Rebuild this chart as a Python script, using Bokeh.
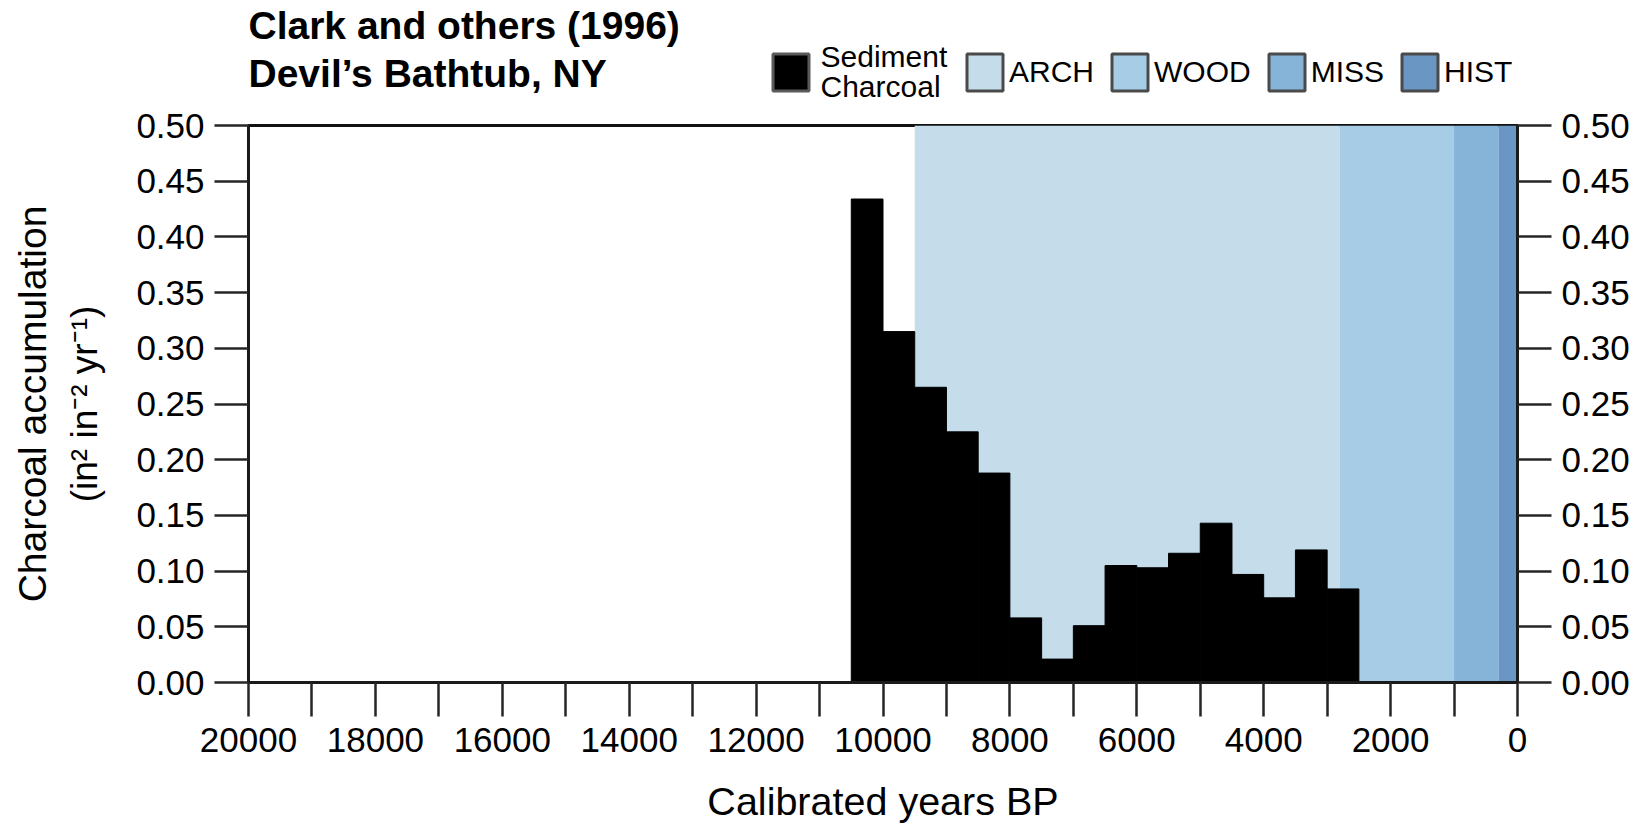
from bokeh.plotting import figure
from bokeh.layouts import column
from bokeh.models import (Range1d, FixedTicker, PrintfTickFormatter, LinearAxis,
                          Label, Legend, LegendItem, ColumnDataSource, Title)
from bokeh.embed import file_html
from bokeh.resources import INLINE

# ---------------- data ----------------
bin_older = [10500, 10000, 9500, 9000, 8500, 8000, 7500, 7000,
             6500, 6000, 5500, 5000, 4500, 4000, 3500, 3000]
bin_younger = [10000, 9500, 9000, 8500, 8000, 7500, 7000, 6500,
               6000, 5500, 5000, 4500, 4000, 3500, 3000, 2500]
charcoal = [0.434, 0.315, 0.265, 0.225, 0.188, 0.058, 0.021, 0.051,
            0.105, 0.103, 0.116, 0.143, 0.097, 0.076, 0.119, 0.084]

periods = ["ARCH", "WOOD", "MISS", "HIST"]
period_start = [9500, 2800, 1000, 300]
period_end = [2800, 1000, 300, 0]
period_colors = ["#c5dcea", "#a7cde6", "#86b4d8", "#6a96c4"]

x_major_ticks = [20000, 18000, 16000, 14000, 12000, 10000, 8000, 6000, 4000, 2000, 0]
x_minor_ticks = [19000, 17000, 15000, 13000, 11000, 9000, 7000, 5000, 3000, 1000]
y_ticks = [0.00, 0.05, 0.10, 0.15, 0.20, 0.25, 0.30, 0.35, 0.40, 0.45, 0.50]

title_lines = ["Clark and others (1996)", "Devil\u2019s Bathtub, NY"]
y_title_lines = ["Charcoal accumulation", "(in\u00b2 in\u207b\u00b2 yr\u207b\u00b9)"]
x_title = "Calibrated years BP"
bar_label_lines = ["Sediment", "Charcoal"]

FONT = "Liberation Sans"
W = 1642
HEAD_H = 105
MAIN_H = 825 - HEAD_H

band_src = ColumnDataSource(dict(left=period_start, right=period_end,
                                 color=period_colors, name=periods))
bar_src = ColumnDataSource(dict(left=bin_older, right=bin_younger, top=charcoal))

# ---------------- header (title + legend) ----------------
head = figure(width=W, height=HEAD_H, output_backend="svg", toolbar_location=None,
              x_range=Range1d(0, 1), y_range=Range1d(0, 1),
              x_axis_location=None, y_axis_location=None,
              min_border=0, min_border_left=0, min_border_right=0,
              min_border_top=0, min_border_bottom=0)
head.xgrid.visible = False
head.ygrid.visible = False
head.outline_line_color = None
head.background_fill_color = "white"
head.border_fill_color = "white"

band_sw = head.quad(left="left", right="right", bottom=0, top=0.5, source=band_src,
                    fill_color="color", line_color="#4a4a4a", line_width=3)
band_sw.visible = False
bar_sw = head.quad(left="left", right="right", bottom=0, top="top", source=bar_src,
                   fill_color="black", line_color="#5a5a5a", line_width=3)
bar_sw.visible = False

# header frame is aligned with the main frame (starts at page x = 248)
for txt, yb in zip(title_lines, [80, 32]):
    head.add_layout(Label(x=0, y=yb, x_units="screen", y_units="screen", text=txt,
                          text_font=FONT, text_font_size="39px", text_font_style="bold",
                          text_color="black", text_baseline="alphabetic", text_align="left"))
for txt, yb in zip(bar_label_lines, [49, 19]):
    head.add_layout(Label(x=572, y=yb, x_units="screen", y_units="screen", text=txt,
                          text_font=FONT, text_font_size="30px",
                          text_color="black", text_baseline="alphabetic", text_align="left"))

leg_common = dict(orientation="horizontal", glyph_width=45, glyph_height=46,
                  label_height=46, label_standoff=2, spacing=13, padding=0, margin=0,
                  border_line_color=None, background_fill_alpha=0,
                  label_text_font=FONT, label_text_font_size="30px",
                  label_text_color="black", inactive_fill_alpha=0)
leg_bar = Legend(items=[LegendItem(label=" ", renderers=[bar_sw])],
                 location=(520, 10), **leg_common)
leg_bands = Legend(items=[LegendItem(label=name, renderers=[band_sw], index=i)
                          for i, name in enumerate(periods)],
                   location=(714, 10), **leg_common)
head.add_layout(leg_bar, "center")
head.add_layout(leg_bands, "center")

# ---------------- main plot ----------------
p = figure(width=W, height=MAIN_H, output_backend="svg", toolbar_location=None,
           x_range=Range1d(20000, 0), y_range=Range1d(0, 0.5),
           min_border_left=248, min_border_right=125,
           min_border_top=20, min_border_bottom=142)
p.xgrid.visible = False
p.ygrid.visible = False
p.background_fill_color = "white"
p.border_fill_color = "white"
p.outline_line_color = "#111111"
p.outline_line_width = 3

p.quad(left="left", right="right", bottom=0, top=0.5, source=band_src,
       fill_color="color", line_color=None)
p.quad(left="left", right="right", bottom=0, top="top", source=bar_src,
       fill_color="black", line_color="black", line_width=1)

def style_axis(ax):
    ax.axis_line_width = 3
    ax.axis_line_color = "#1a1a1a"
    ax.major_tick_line_width = 2.5
    ax.major_tick_line_color = "#262626"
    ax.major_tick_out = 34
    ax.major_tick_in = 0
    ax.minor_tick_line_width = 2.5
    ax.minor_tick_line_color = "#262626"
    ax.minor_tick_out = 34
    ax.minor_tick_in = 0
    ax.major_label_text_font = FONT
    ax.major_label_text_font_size = "35px"
    ax.major_label_text_color = "black"
    ax.axis_label_text_font = FONT
    ax.axis_label_text_font_style = "normal"
    ax.axis_label_text_color = "black"

xax = p.xaxis[0]
xax.ticker = FixedTicker(ticks=x_major_ticks, minor_ticks=x_minor_ticks)
style_axis(xax)
xax.major_label_standoff = 11
xax.axis_label = x_title
xax.axis_label_text_font_size = "39.5px"
xax.axis_label_standoff = 24

yax = p.yaxis[0]
yax.ticker = FixedTicker(ticks=y_ticks, minor_ticks=[])
yax.formatter = PrintfTickFormatter(format="%.2f")
style_axis(yax)
yax.major_label_standoff = 10
yax.axis_label = y_title_lines[1]
yax.axis_label_text_font_size = "37px"
yax.axis_label_standoff = 28

ryax = LinearAxis(ticker=FixedTicker(ticks=y_ticks, minor_ticks=[]),
                  formatter=PrintfTickFormatter(format="%.2f"))
style_axis(ryax)
ryax.major_label_standoff = 10
p.add_layout(ryax, "right")

p.add_layout(Title(text=y_title_lines[0], align="center", text_font=FONT,
                   text_font_size="39px", text_font_style="normal",
                   text_color="black", standoff=16), "left")

layout = column(head, p)
open("out.html", "w").write(file_html(layout, INLINE))
